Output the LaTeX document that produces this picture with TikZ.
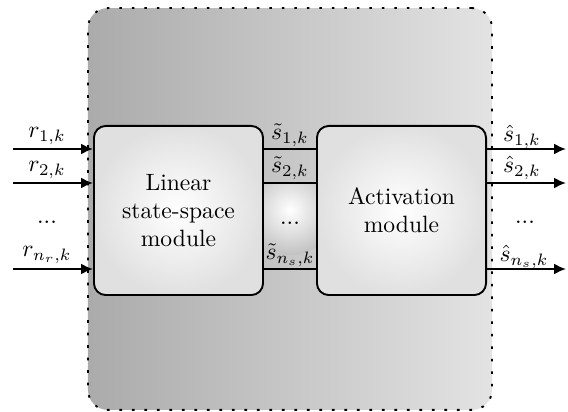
\documentclass[tikz,border=0pt]{standalone}
\usetikzlibrary{arrows.meta}
\begin{document}
\begin{tikzpicture}[x=0.424pt,y=-0.424pt,
  frame/.style={draw=black, line width=0.8pt, dash pattern=on 1.1pt off 4.2pt,
    rounded corners=8.5pt, left color=black!33, right color=black!11,
    minimum width=171.3pt, minimum height=170.4pt, inner sep=0pt},
  modbox/.style={draw=black, line width=0.8pt, rounded corners=5pt,
    inner color=white, outer color=black!12, minimum width=71.7pt,
    minimum height=71.7pt, align=center, inner sep=0pt},
  sig/.style={line width=0.85pt},
  arr/.style={sig, -{Latex[length=5pt,width=4.6pt]}},
  lbl/.style={inner sep=0pt}]
\useasboundingbox (0,0) rectangle (568,412);
% frame
\node[frame] (F) at (290,209) {};
% faint spot between the modules
\begin{scope}
  \clip (263,183) rectangle (317,269);
  \shade[inner color=white, outer color=black!24] (290,210) circle (45);
\end{scope}
% modules
\node[modbox] (L) at (178.5,210.5) {Linear\\state-space\\module};
\node[modbox] (R) at (401.5,210.5) {Activation\\module};
% coordinates
\coordinate (i1) at (13,149);
\coordinate (i2) at (13,183);
\coordinate (i3) at (13,269);
\coordinate (o1) at (566,149);
\coordinate (o2) at (566,183);
\coordinate (o3) at (566,269);
% inputs
\draw[arr] (i1) -- (i1 -| L.west);
\draw[arr] (i2) -- (i2 -| L.west);
\draw[arr] (i3) -- (i3 -| L.west);
% internal signals
\draw[sig] (i1 -| L.east) -- (i1 -| R.west);
\draw[sig] (i2 -| L.east) -- (i2 -| R.west);
\draw[sig] (i3 -| L.east) -- (i3 -| R.west);
% outputs
\draw[arr] (o1 -| R.east) -- (o1);
\draw[arr] (o2 -| R.east) -- (o2);
\draw[arr] (o3 -| R.east) -- (o3);
% labels
\node[lbl] (lr1) at (47,136) {$r_{1,k}$};
\node[lbl] (lr2) at (47,170) {$r_{2,k}$};
\node[lbl] (lrd) at (47,222) {...};
\node[lbl] (lrn) at (47,255) {$r_{n_r,k}$};
\node[lbl] (ls1) at (290,135) {$\tilde{s}_{1,k}$};
\node[lbl] (ls2) at (290,168) {$\tilde{s}_{2,k}$};
\node[lbl] (lsd) at (290,223) {...};
\node[lbl] (lsn) at (290,255) {$\tilde{s}_{n_s,k}$};
\node[lbl] (lo1) at (522,137) {$\hat{s}_{1,k}$};
\node[lbl] (lo2) at (522,168) {$\hat{s}_{2,k}$};
\node[lbl] (lod) at (525,222) {...};
\node[lbl] (lon) at (524,257) {$\hat{s}_{n_s,k}$};
\end{tikzpicture}
\end{document}
